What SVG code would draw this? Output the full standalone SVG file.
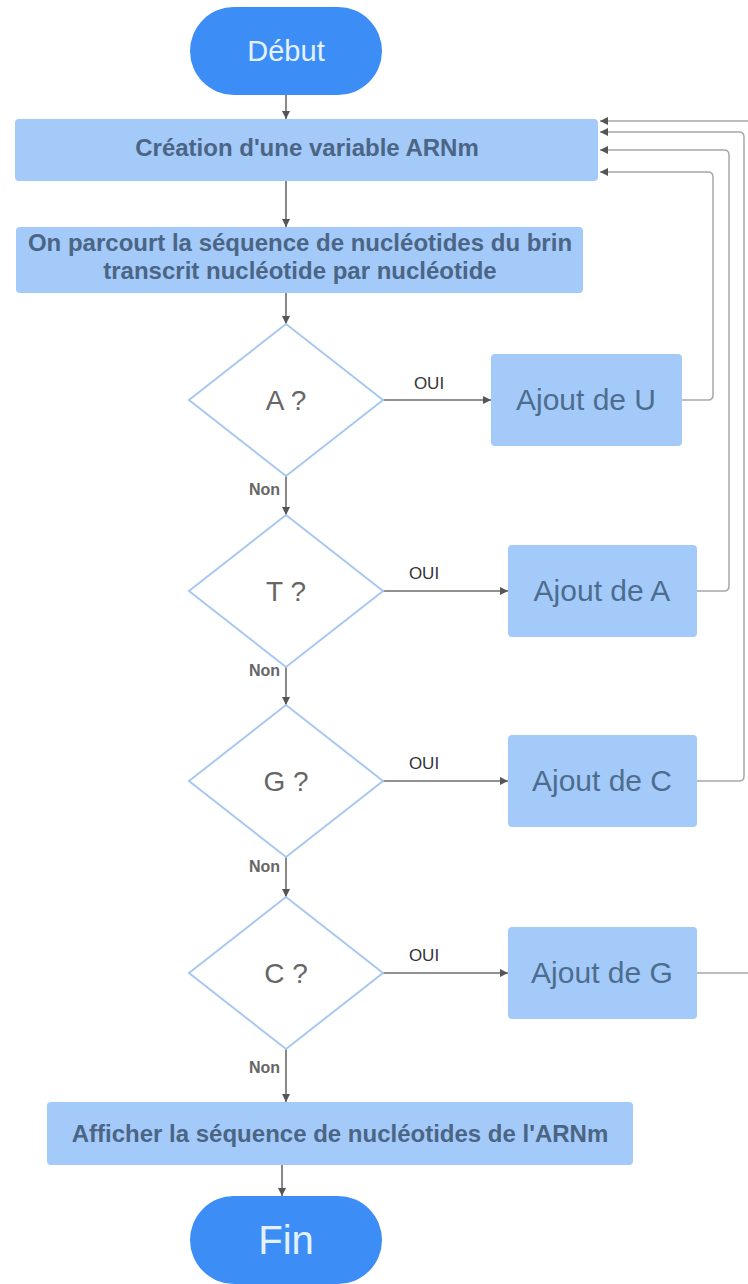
<svg xmlns="http://www.w3.org/2000/svg" width="748" height="1284" viewBox="0 0 748 1284">
  <defs>
    <marker id="arrow" viewBox="0 0 10 10" refX="10" refY="5" markerWidth="9" markerHeight="8" markerUnits="userSpaceOnUse" orient="auto">
      <path d="M0,0 L10,5 L0,10 z" fill="#555"/>
    </marker>
    <style>
      .terminal { fill: #3d8df6; }
      .terminal-text { font-family: "Liberation Sans", Arial, sans-serif; fill: #e4f2ff; text-anchor: middle; }
      .step { fill: #a4cafa; }
      .step-text { font-family: "Liberation Sans", Arial, sans-serif; font-weight: bold; font-size: 24px; fill: #4b6585; text-anchor: middle; }
      .action-text { font-family: "Liberation Sans", Arial, sans-serif; font-size: 30px; fill: #4d6d8e; text-anchor: middle; }
      .decision { fill: #ffffff; stroke: #a9c8ef; stroke-width: 2; }
      .decision-text { font-family: "Liberation Sans", Arial, sans-serif; font-size: 28px; fill: #666; text-anchor: middle; }
      .flow { fill: none; stroke: #6b6b6b; stroke-width: 1.6; marker-end: url(#arrow); }
      .loop { fill: none; stroke: #a8a8a8; stroke-width: 1.5; marker-end: url(#arrow); }
      .yes { font-family: "Liberation Sans", Arial, sans-serif; font-size: 17px; fill: #333; text-anchor: middle; }
      .no { font-family: "Liberation Sans", Arial, sans-serif; font-size: 16px; font-weight: bold; fill: #666; text-anchor: end; }
    </style>
  </defs>

  <rect width="748" height="1284" fill="#ffffff"/>

  <!-- connectors -->
  <g id="connectors">
    <path class="flow" d="M286,95 V119"/>
    <path class="flow" d="M286,181 V227" stroke-width="2.6"/>
    <path class="flow" d="M286,293 V324"/>
    <path class="flow" d="M286,476 V515"/>
    <path class="flow" d="M286,667 V705"/>
    <path class="flow" d="M286,857 V897"/>
    <path class="flow" d="M286,1049 V1102"/>
    <path class="flow" d="M282,1165 V1196"/>

    <path class="flow" d="M383,400 H491"/>
    <path class="flow" d="M383,591 H508"/>
    <path class="flow" d="M383,781 H508"/>
    <path class="flow" d="M383,973 H508"/>

    <path class="loop" d="M682,400 H708 Q713,400 713,395 V177 Q713,172 708,172 H600"/>
    <path class="loop" d="M697,591 H724 Q729,591 729,586 V155 Q729,150 724,150 H600"/>
    <path class="loop" d="M697,781 H739 Q744,781 744,776 V137 Q744,132 739,132 H600"/>
    <path class="loop" d="M697,973 H760 V121 H600"/>

    <text class="yes" x="429" y="389">OUI</text>
    <text class="yes" x="424" y="579">OUI</text>
    <text class="yes" x="424" y="769">OUI</text>
    <text class="yes" x="424" y="961">OUI</text>

    <text class="no" x="280" y="495">Non</text>
    <text class="no" x="280" y="676">Non</text>
    <text class="no" x="280" y="872">Non</text>
    <text class="no" x="280" y="1073">Non</text>
  </g>

  <g id="start">
    <rect class="terminal" x="190" y="7" width="192" height="88" rx="44"/>
    <text class="terminal-text" x="286" y="61" font-size="29">Début</text>
  </g>

  <g id="create-variable">
    <rect class="step" x="15" y="119" width="583" height="62" rx="4"/>
    <text class="step-text" x="307" y="156">Création d'une variable ARNm</text>
  </g>

  <g id="read-sequence">
    <rect class="step" x="16" y="227" width="567" height="66" rx="4"/>
    <text class="step-text" x="300" y="251">On parcourt la séquence de nucléotides du brin</text>
    <text class="step-text" x="300" y="279">transcrit nucléotide par nucléotide</text>
  </g>

  <g id="test-a">
    <polygon class="decision" points="286,324 383,400 286,476 189,400"/>
    <text class="decision-text" x="286" y="410">A ?</text>
  </g>
  <g id="add-u">
    <rect class="step" x="491" y="354" width="191" height="92" rx="4"/>
    <text class="action-text" x="586" y="410">Ajout de U</text>
  </g>

  <g id="test-t">
    <polygon class="decision" points="286,515 383,591 286,667 189,591"/>
    <text class="decision-text" x="286" y="601">T ?</text>
  </g>
  <g id="add-a">
    <rect class="step" x="508" y="545" width="189" height="92" rx="4"/>
    <text class="action-text" x="602" y="601">Ajout de A</text>
  </g>

  <g id="test-g">
    <polygon class="decision" points="286,705 383,781 286,857 189,781"/>
    <text class="decision-text" x="286" y="791">G ?</text>
  </g>
  <g id="add-c">
    <rect class="step" x="508" y="735" width="189" height="92" rx="4"/>
    <text class="action-text" x="602" y="791">Ajout de C</text>
  </g>

  <g id="test-c">
    <polygon class="decision" points="286,897 383,973 286,1049 189,973"/>
    <text class="decision-text" x="286" y="983">C ?</text>
  </g>
  <g id="add-g">
    <rect class="step" x="508" y="927" width="189" height="92" rx="4"/>
    <text class="action-text" x="602" y="983">Ajout de G</text>
  </g>

  <g id="show-result">
    <rect class="step" x="47" y="1102" width="586" height="63" rx="4"/>
    <text class="step-text" x="340" y="1142">Afficher la séquence de nucléotides de l'ARNm</text>
  </g>

  <g id="end">
    <rect class="terminal" x="190" y="1196" width="192" height="88" rx="44"/>
    <text class="terminal-text" x="286" y="1254" font-size="40">Fin</text>
  </g>
</svg>
